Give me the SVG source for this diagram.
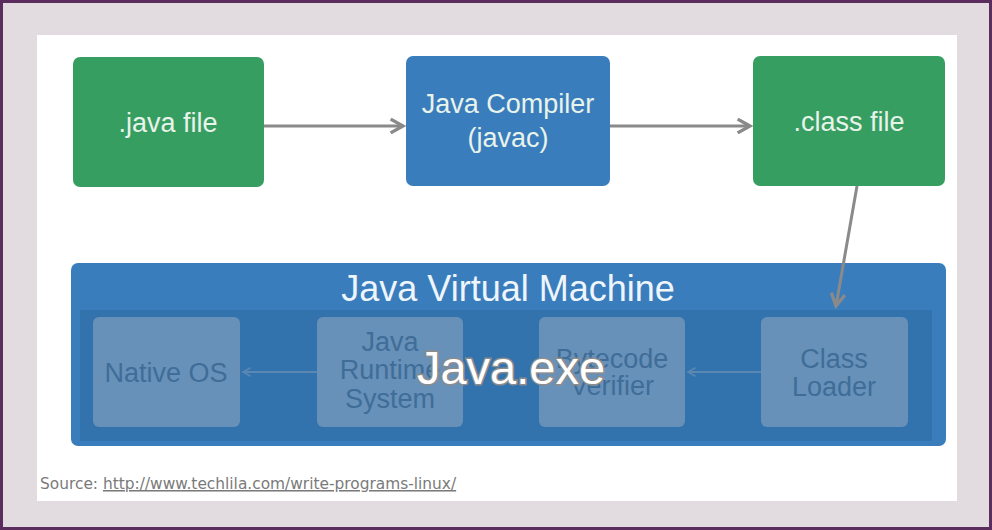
<svg xmlns="http://www.w3.org/2000/svg" width="992" height="530" viewBox="0 0 992 530">
<defs>
<marker id="arr" viewBox="0 0 12 12" refX="10" refY="6" markerWidth="5.5" markerHeight="5.5" orient="auto" markerUnits="strokeWidth">
<path d="M1,1 L10,6 L1,11" fill="none" stroke="#8a8a8a" stroke-width="2.4" stroke-linejoin="miter"/>
</marker>
<marker id="arrf" viewBox="0 0 12 12" refX="10" refY="6" markerWidth="5" markerHeight="5" orient="auto" markerUnits="strokeWidth">
<path d="M1,1 L10,6 L1,11" fill="none" stroke="#5a88b2" stroke-width="2"/>
</marker>
<style>
.lbl{font-family:"Liberation Sans",Arial,sans-serif;font-size:27px;fill:#e8f3ea;text-anchor:middle}
.in{font-family:"Liberation Sans",Arial,sans-serif;font-size:27px;fill:#3f6d98;text-anchor:middle}
.green{fill:#379e62}
.blue{fill:#3a7dbd}
.inner{fill:#6791b9}
.conn{stroke:#8a8a8a;stroke-width:3;fill:none}
.fconn{stroke:#5a88b2;stroke-width:2;fill:none}
</style>
</defs>
<rect x="0" y="0" width="992" height="530" fill="#5a2d5e"/>
<rect x="3" y="3" width="986" height="524" fill="#e2dce1"/>
<rect x="37" y="35" width="920" height="466" fill="#ffffff"/>

<g id="java-file">
<rect class="green" x="73" y="57" width="191" height="130" rx="7"/>
<text class="lbl" x="168" y="132">.java file</text>
</g>
<g id="java-compiler">
<rect class="blue" x="406" y="56" width="204" height="130" rx="7"/>
<text class="lbl" x="508" y="113">Java Compiler</text>
<text class="lbl" x="508" y="147">(javac)</text>
</g>
<g id="class-file">
<rect class="green" x="753" y="56" width="192" height="130" rx="7"/>
<text class="lbl" x="849" y="131">.class file</text>
</g>

<g id="jvm">
<rect class="blue" x="71" y="263" width="875" height="183" rx="7"/>
<rect x="80" y="310" width="852" height="131" fill="#3272ad"/>
<text x="508" y="301" style="font-family:'Liberation Sans',Arial,sans-serif;font-size:36px;fill:#eef5fb;text-anchor:middle">Java Virtual Machine</text>
</g>

<g id="connectors">
<line class="conn" x1="264" y1="126" x2="403" y2="126" marker-end="url(#arr)"/>
<line class="conn" x1="610" y1="126" x2="750" y2="126" marker-end="url(#arr)"/>
<line class="conn" x1="857" y1="186" x2="836" y2="306" marker-end="url(#arr)"/>
<line class="fconn" x1="317" y1="372" x2="243" y2="372" marker-end="url(#arrf)"/>
<line class="fconn" x1="761" y1="372" x2="688" y2="372" marker-end="url(#arrf)"/>
</g>

<g id="native-os">
<rect class="inner" x="93" y="317" width="147" height="110" rx="6"/>
<text class="in" x="166" y="382">Native OS</text>
</g>
<g id="jrs">
<rect class="inner" x="317" y="317" width="146" height="110" rx="6"/>
<text class="in" x="390" y="351">Java</text>
<text class="in" x="390" y="379">Runtime</text>
<text class="in" x="390" y="408">System</text>
</g>
<g id="bytecode-verifier">
<rect class="inner" x="539" y="317" width="146" height="110" rx="6"/>
<text class="in" x="612" y="368">Bytecode</text>
<text class="in" x="612" y="395">Verifier</text>
</g>
<g id="class-loader">
<rect class="inner" x="761" y="317" width="147" height="110" rx="6"/>
<text class="in" x="834" y="368">Class</text>
<text class="in" x="834" y="396">Loader</text>
</g>

<text x="511" y="384" style="font-family:'Liberation Sans',Arial,sans-serif;font-size:47px;fill:#ffffff;stroke:#8c8c8c;stroke-width:3;paint-order:stroke;text-anchor:middle">Java.exe</text>

<text x="40" y="489" style="font-family:'DejaVu Sans',sans-serif;font-size:15.4px;fill:#7a7a7a">Source: <tspan text-decoration="underline">http://www.techlila.com/write-programs-linux/</tspan></text>
</svg>
